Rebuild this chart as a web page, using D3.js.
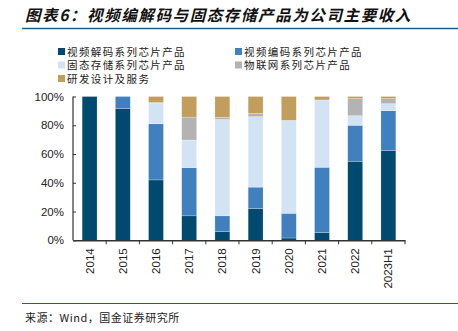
<!DOCTYPE html>
<html><head><meta charset="utf-8">
<script src="https://cdn.jsdelivr.net/npm/d3@7"></script>
<style>
body{margin:0;background:#fff;}
svg{display:block;}
</style></head>
<body>
<svg id="c" width="458" height="331"></svg>
<script>
const categories = ["2014","2015","2016","2017","2018","2019","2020","2021","2022","2023H1"];
const seriesNames = ["视频解码系列芯片产品","视频编码系列芯片产品","固态存储系列芯片产品","物联网系列芯片产品","研发设计及服务"];
const decode  = [100, 91.5, 42, 17, 6, 22, 1.6, 5.3, 55, 62.3];
const encode  = [0, 8.5, 39, 33.5, 11, 15, 17.2, 45.5, 25, 27.8];
const storage = [0, 0, 14.3, 19.2, 67, 49, 64.6, 46.8, 6.6, 4.9];
const iot     = [0, 0, 0.7, 16, 1.5, 2.3, 0, 0, 11.9, 3.5];
const rnd     = [0, 0, 4, 14.3, 14.5, 11.7, 16.6, 2.4, 1.5, 1.5];
const yTicks = [0, 20, 40, 60, 80, 100];
const colors = ["#004a6f","#4180be","#d2e3f3","#b3b3b3","#c19e5b"];

const svg = d3.select("#c");
const cjk = "'Noto Sans CJK SC','Noto Sans',sans-serif";
const latin = "'Liberation Sans',Arial,sans-serif";

// title
svg.append("text").attr("x",25).attr("y",21)
  .attr("font-family",cjk).attr("font-weight","bold").attr("font-style","italic")
  .attr("font-size",15.5).attr("letter-spacing",1.6).attr("fill","#111")
  .text("图表6：视频编解码与固态存储产品为公司主要收入");
svg.append("line").attr("x1",22).attr("x2",458).attr("y1",28.5).attr("y2",28.5)
  .attr("stroke","#1e5f85").attr("stroke-width",1.5);

// legend
const legPos = [[58,52],[235,52],[58,65.5],[235,65.5],[58,79]];
seriesNames.forEach((n,i)=>{
  const g = svg.append("g").attr("transform",`translate(${legPos[i][0]},${legPos[i][1]})`);
  g.append("rect").attr("x",0).attr("y",-4).attr("width",7).attr("height",7).attr("fill",colors[i]);
  g.append("text").attr("x",9).attr("y",3.5).attr("font-family",cjk).attr("font-size",10.5)
    .attr("letter-spacing",1.4).attr("fill","#222").text(n);
});

const x = d3.scaleBand().domain(categories).range([73,405]).paddingInner(0.55).paddingOuter(0.275);
const y = d3.scaleLinear().domain([0,100]).range([240.3,96.5]);

const table = categories.map((c,i)=>({cat:c, s0:decode[i], s1:encode[i], s2:storage[i], s3:iot[i], s4:rnd[i]}));
const stack = d3.stack().keys(["s0","s1","s2","s3","s4"])(table);

svg.append("g").selectAll("g").data(stack).join("g")
  .attr("fill",(d,i)=>colors[i])
  .selectAll("rect").data(d=>d).join("rect")
  .attr("x",d=>x(d.data.cat)).attr("width",x.bandwidth())
  .attr("y",d=>y(d[1])).attr("height",d=>Math.max(0,y(d[0])-y(d[1])))
  .attr("stroke","#fff").attr("stroke-width",0.4).attr("stroke-opacity",0.6);

// y axis
const yAxis = svg.append("g").attr("transform","translate(73,0)")
  .call(d3.axisRight(y).tickValues(yTicks).tickSize(3).tickFormat(d=>d+"%"));
yAxis.select(".domain").attr("stroke","#333").attr("stroke-width",1.2).attr("d","M0,96.5V240.3");
yAxis.selectAll(".tick line").attr("stroke","#333");
yAxis.selectAll(".tick text").attr("x",-9).attr("text-anchor","end")
  .attr("font-family",latin).attr("font-size",11.5).attr("fill","#222");

// x axis
const xAxis = svg.append("g").attr("transform","translate(0,240.3)")
  .call(d3.axisBottom(x).tickSize(0).tickSizeOuter(0));
xAxis.select(".domain").attr("stroke","#333").attr("stroke-width",1.5);
xAxis.selectAll(".tick text")
  .attr("transform","rotate(-90)").attr("x",-8).attr("y",0).attr("dy","0.35em")
  .attr("text-anchor","end").attr("font-family",latin).attr("font-size",11.5).attr("fill","#222");
// separator ticks between categories
const step = x.step();
const sepData = d3.range(1, categories.length+1).map(k=>73 + step*k);
xAxis.append("g").selectAll("line").data(sepData).join("line")
  .attr("x1",d=>d).attr("x2",d=>d).attr("y1",0).attr("y2",4)
  .attr("stroke","#333").attr("stroke-width",1);

// footer
svg.append("line").attr("x1",22).attr("x2",458).attr("y1",303.5).attr("y2",303.5)
  .attr("stroke","#1e5f85").attr("stroke-width",1.2);
svg.append("text").attr("x",25).attr("y",322).attr("font-family",cjk).attr("font-size",11)
  .attr("letter-spacing",0.5).attr("fill","#222").text("来源：Wind，国金证券研究所");
</script>
</body></html>
